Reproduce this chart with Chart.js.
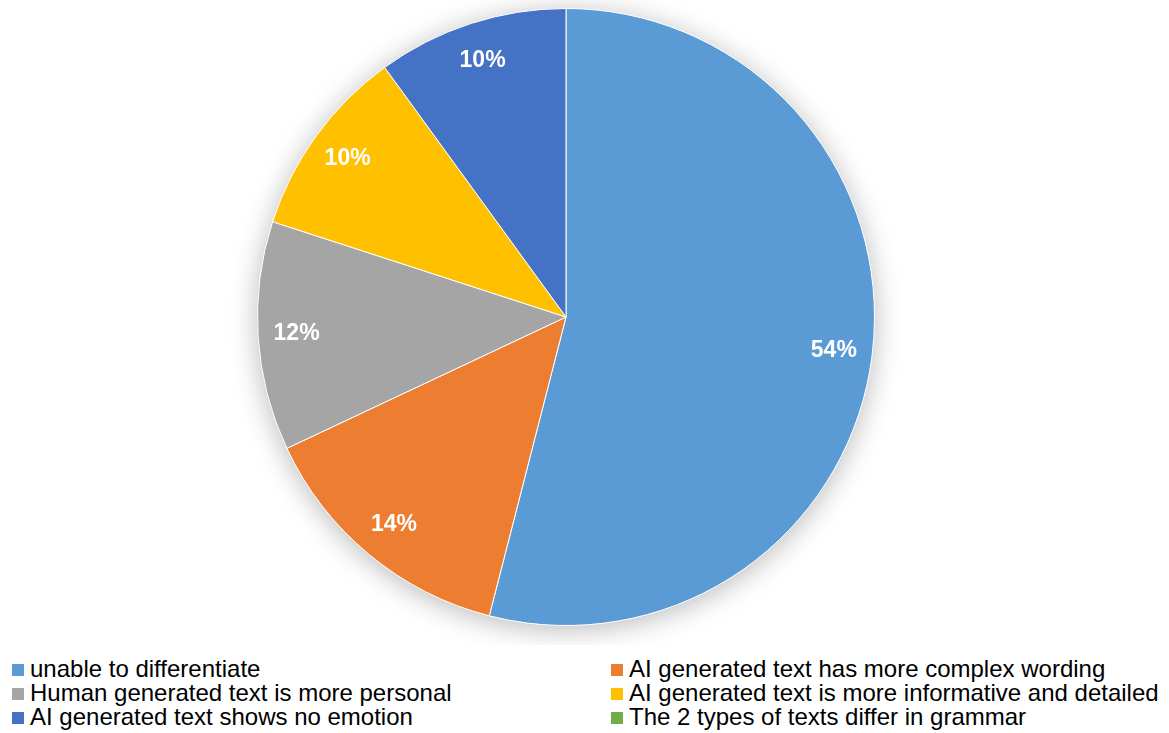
<!DOCTYPE html>
<html>
<head>
<meta charset="utf-8">
<script src="https://cdn.jsdelivr.net/npm/chart.js@4/dist/chart.umd.min.js"></script>
<style>
  body { margin: 0; background: #fff; font-family: "Liberation Sans", Arial, sans-serif; }
  #wrap { position: relative; width: 1169px; height: 733px; }
  #chartBox { position: absolute; left: 0; top: 0; width: 1169px; height: 645px; }
  #legend { position: absolute; left: 0; top: 657px; width: 1169px; }
  .item { position: absolute; font-size: 24px; color: #000; line-height: 24px; white-space: nowrap; }
  .item span.box { position: absolute; left: -18px; top: 7px; width: 12px; height: 12px; }
</style>
</head>
<body>
<div id="wrap">
  <div id="chartBox"><canvas id="mychart"></canvas></div>
  <div id="legend"></div>
</div>
<script>
const labels = [
  "unable to differentiate",
  "AI generated text has more complex wording",
  "Human generated text is more personal",
  "AI generated text is more informative and detailed",
  "AI generated text shows no emotion",
  "The 2 types of texts differ in grammar",
];
const values = [54, 14, 12, 10, 10, 0];
const colors = ["#5B9BD5", "#ED7D31", "#A5A5A5", "#FFC000", "#4472C4", "#70AD47"];

// soft glow behind the pie
const pieShadow = {
  id: "pieShadow",
  beforeDatasetsDraw(chart) {
    const arc = chart.getDatasetMeta(0).data[0];
    if (!arc) return;
    const ctx = chart.ctx;
    ctx.save();
    ctx.shadowColor = "rgba(0,0,0,0.28)";
    ctx.shadowBlur = 28;
    ctx.shadowOffsetY = 4;
    ctx.fillStyle = "#fff";
    ctx.beginPath();
    ctx.arc(arc.x, arc.y, arc.outerRadius, 0, Math.PI * 2);
    ctx.fill();
    ctx.restore();
  },
};

// percent labels inside each slice
const sliceLabels = {
  id: "sliceLabels",
  afterDatasetsDraw(chart) {
    const ctx = chart.ctx;
    const total = values.reduce((a, b) => a + b, 0);
    ctx.save();
    ctx.font = "bold 23px 'Liberation Sans', Arial, sans-serif";
    ctx.fillStyle = "#fff";
    ctx.textAlign = "center";
    ctx.textBaseline = "middle";
    chart.getDatasetMeta(0).data.forEach((arc, i) => {
      if (!values[i]) return;
      const mid = (arc.startAngle + arc.endAngle) / 2;
      const r = arc.outerRadius * 0.875;
      const pct = Math.round((values[i] / total) * 100) + "%";
      ctx.fillText(pct, arc.x + Math.cos(mid) * r, arc.y + Math.sin(mid) * r);
    });
    ctx.restore();
  },
};

const data = {
  labels: labels,
  datasets: [
    {
      data: values,
      backgroundColor: colors,
      borderColor: "#fff",
      borderWidth: 1,
    },
  ],
};

const config = {
  type: "pie",
  data: data,
  options: {
    responsive: true,
    maintainAspectRatio: false,
    animation: false,
    layout: { padding: { top: 8, bottom: 19, left: 0, right: 37 } },
    plugins: {
      legend: { display: false },
      tooltip: { enabled: false },
    },
  },
  plugins: [pieShadow, sliceLabels],
};

const mychart = new Chart(document.getElementById("mychart"), config);

// two-column legend under the chart
const legend = document.getElementById("legend");
const colX = [30, 629];
labels.forEach((name, i) => {
  const div = document.createElement("div");
  div.className = "item";
  div.style.left = colX[i % 2] + "px";
  div.style.top = Math.floor(i / 2) * 24 + "px";
  const box = document.createElement("span");
  box.className = "box";
  box.style.background = colors[i];
  div.appendChild(box);
  div.appendChild(document.createTextNode(name));
  legend.appendChild(div);
});
</script>
</body>
</html>
